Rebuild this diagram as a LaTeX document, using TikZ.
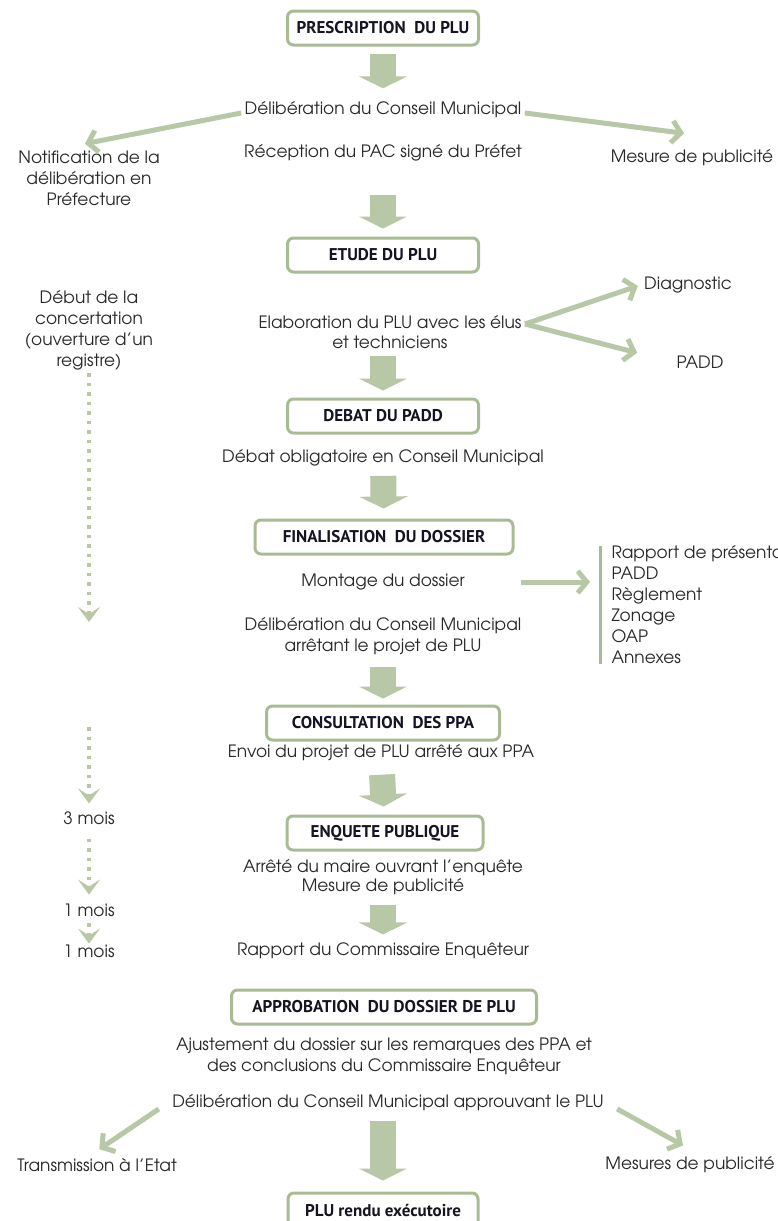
\documentclass[tikz,border=0pt]{standalone}
\usepackage{fontspec}
\setmainfont{TeX Gyre Adventor}
\newfontfamily\titrefont{PT Sans}
\usetikzlibrary{arrows.meta}
\definecolor{vert}{RGB}{184,199,165}
\definecolor{vertbord}{RGB}{170,187,148}
\definecolor{encre}{RGB}{40,40,40}
\definecolor{encretitre}{RGB}{20,20,35}
\newcommand{\corps}{\fontsize{17}{21}\selectfont}
\tikzset{
    etape/.style={draw=vertbord, line width=3pt, rounded corners=6pt, fill=white,
        minimum height=34pt, text=encretitre, font=\titrefont\bfseries\fontsize{17}{19}\selectfont},
    texte/.style={text=encre, font=\corps, align=center},
    grosfleche/.style={draw=vert, line width=26pt, -{Triangle[length=12pt,width=48pt]}},
    fleche/.style={draw=vert, line width=5pt, -{Straight Barb[length=9pt,width=22pt]}},
    pointille/.style={draw=vert, line width=4pt, dash pattern=on 3.5pt off 6pt,
        -{Stealth[length=15pt,width=22pt,inset=7pt]}},
    barre/.style={draw=vertbord, line width=3pt}
}
\begin{document}
\begin{tikzpicture}[x=1pt,y=-1pt]
            \useasboundingbox (0,0) rectangle (778,1221);
            \node[etape, minimum width=191pt] (prescription) at (383,28) {PRESCRIPTION~~DU PLU};
            \node[texte] (delib1) at (383,110) {Délibération du Conseil Municipal};
            \node[texte] (notif) at (89,178) {Notification de la\\délibération en\\Préfecture};
            \node[texte] (reception) at (383,153) {Réception du PAC signé du Préfet};
            \node[texte] (publicite1) at (692,158) {Mesure de publicité};
            \node[etape, minimum width=191pt] (etude) at (383,255) {ETUDE DU PLU};
            \node[texte] (concert) at (89,330) {Début de la\\concertation\\(ouverture d'un\\registre)};
            \node[texte, font=\fontsize{17}{20}\selectfont] (elabo) at (390,332) {Elaboration du PLU avec les élus\\et techniciens};
            \node[texte] (diagnostic) at (688,285) {Diagnostic};
            \node[texte] (padd) at (700,362) {PADD};
            \node[etape, minimum width=191pt] (debat) at (383,416) {DEBAT DU PADD};
            \node[texte] (debatoblig) at (383,458) {Débat obligatoire en Conseil Municipal};
            \node[etape, minimum width=258pt] (finalisation) at (384,537) {FINALISATION~~DU DOSSIER};
            \node[texte] (montage) at (383,582) {Montage du dossier};
            \node[texte] (delib2) at (383,636) {Délibération du Conseil Municipal\\arrêtant le projet de PLU};
            \node[texte, align=left, anchor=west] (liste) at (608,605) {Rapport de présentation\\PADD\\Règlement\\Zonage\\OAP\\Annexes};
            \node[etape, minimum width=233pt] (consultation) at (383,723) {CONSULTATION~~DES PPA};
            \node[texte] (envoi) at (381,753) {Envoi du projet de PLU arrêté aux PPA};
            \node[etape, minimum width=196pt] (enquete) at (385,833) {ENQUETE PUBLIQUE};
            \node[texte, font=\fontsize{17}{19}\selectfont] (arrete) at (383,877) {Arrêté du maire ouvrant l'enquête\\Mesure de publicité};
            \node[texte] (rapportce) at (383,951) {Rapport du Commissaire Enquêteur};
            \node[etape, minimum width=305pt] (approbation) at (384,1007) {APPROBATION~~DU DOSSIER DE PLU};
            \node[texte] (ajustement) at (384,1056) {Ajustement du dossier sur les remarques des PPA et\\des conclusions du Commissaire Enquêteur};
            \node[texte] (delib3) at (388,1103) {Délibération du Conseil Municipal approuvant le PLU};
            \node[texte] (transmission) at (97,1165) {Transmission à l'Etat};
            \node[texte] (publicite2) at (690,1165) {Mesures de publicité};
            \node[etape, minimum width=190pt] (executoire) at (383,1210) {PLU rendu exécutoire};
            \node[texte] (mois3) at (89,818) {3 mois};
            \node[texte] (mois1a) at (89,910) {1 mois};
            \node[texte] (mois1b) at (89,951) {1 mois};
            \coordinate (finconcert) at (89,622);
            \coordinate (debutppa) at (89,727);
            \draw[grosfleche, shorten <=7pt, shorten >=10pt] (prescription) -- (delib1);
            \draw[grosfleche, shorten <=30pt, shorten >=8pt] (reception) -- (etude);
            \draw[grosfleche, shorten <=4pt, shorten >=7pt] (debat |- elabo.south) -- (debat);
            \draw[grosfleche, shorten <=6pt, shorten >=10pt] (debatoblig) -- (finalisation);
            \draw[grosfleche, shorten <=9pt, shorten >=6pt] (delib2) -- (consultation);
            \draw[grosfleche, shorten <=10pt, shorten >=8pt] (envoi) -- (enquete);
            \draw[grosfleche, shorten <=7pt, shorten >=5pt] (arrete) -- (rapportce);
            \draw[grosfleche, shorten <=6pt, shorten >=11pt] (executoire |- delib3.south) -- (executoire);
            \draw[fleche, shorten >=2pt] ([yshift=-3pt]delib1.west) -- ([xshift=-6pt,yshift=3pt]notif.north);
            \draw[fleche, shorten >=8pt] ([yshift=-3pt]delib1.east) -- ([yshift=12pt]publicite1.north);
            \draw[fleche, shorten >=3pt] ([yshift=8pt]elabo.east) -- (diagnostic.west);
            \draw[fleche, shorten >=37pt] ([yshift=8pt]elabo.east) -- (padd.west);
            \draw[fleche, shorten <=53pt, shorten >=18pt] (montage.east) -- (montage.east -| liste.west);
            \draw[barre, shorten <=4pt, shorten >=4pt] ([xshift=-8pt]liste.north west) -- ([xshift=-8pt]liste.south west);
            \draw[fleche, shorten >=10pt] ([xshift=-10pt,yshift=-6pt]delib3.west) -- ([xshift=-6pt]transmission.north);
            \draw[fleche, shorten >=8pt] ([xshift=10pt,yshift=-6pt]delib3.east) -- ([yshift=4pt]publicite2.north);
            \draw[pointille] (concert) -- (finconcert);
            \draw[pointille, shorten >=4.5pt] (debutppa) -- (mois3);
            \draw[pointille, shorten <=10.5pt, shorten >=5.5pt] (mois3) -- (mois1a);
            \draw[pointille, shorten <=3.5pt, shorten >=-2.5pt] (mois1a) -- (mois1b);
        \end{tikzpicture}
\end{document}
